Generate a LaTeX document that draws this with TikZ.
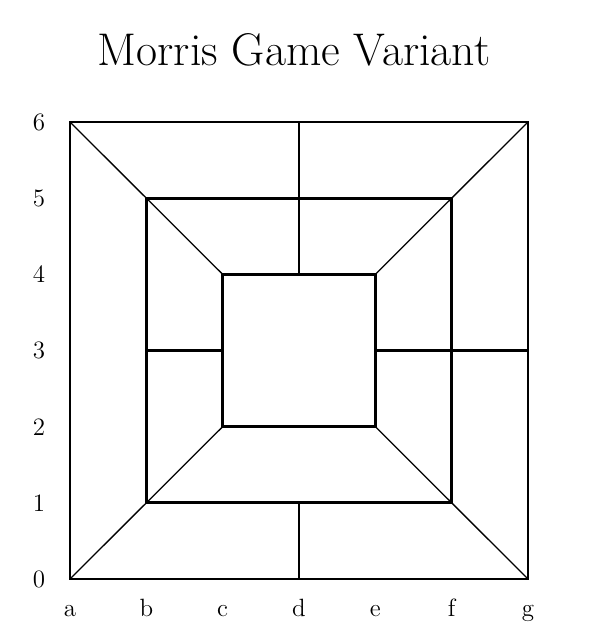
\documentclass[tikz,border=0pt]{standalone}
\usetikzlibrary{calc}
\begin{document}
\begin{tikzpicture}[x=0.5pt,y=-0.5pt,
  thick line/.style={line width=1.45pt,line cap=rect},
  thin line/.style={line width=0.65pt},
  lbl/.style={font=\fontsize{12.5}{15}\selectfont,anchor=base,inner sep=0pt},
  ttl/.style={font=\fontsize{22.9}{27}\selectfont,anchor=base,inner sep=0pt}]
\useasboundingbox (0,0) rectangle (593,635);
% grid coordinates
\foreach \c [count=\i from 0] in {a,b,c,d,e,f,g}{
  \foreach \r in {0,...,6}{
    \coordinate (\c\r) at ({70+76.333*\i},{579-76.167*\r});
  }
}
\node[ttl] (title) at (294,66) {Morris Game Variant};
% squares
\draw[thick line] (a0) -- (g0) -- (g6) -- (a6) -- cycle;
\draw[thick line] (b1) -- (f1) -- (f5) -- (b5) -- cycle;
\draw[thick line] (c2) -- (e2) -- (e4) -- (c4) -- cycle;
% connectors
\draw[thick line] (d0) -- (d1);
\draw[thick line] (d6) -- (d4);
\draw[thick line] (b3) -- (c3);
\draw[thick line] (e3) -- (g3);
% diagonals
\draw[thin line] (a0) -- (c2);
\draw[thin line] (g0) -- (e2);
\draw[thin line] (a6) -- (c4);
\draw[thin line] (g6) -- (e4);
% labels
\foreach \r in {0,...,6}{
  \node[lbl] (row\r) at ($(a\r)+(-31,8.5)$) {\r};
}
\foreach \c in {a,b,c,d,e,f,g}{
  \node[lbl] (col\c) at ($(\c0)+(0,37.5)$) {\c};
}
\end{tikzpicture}
\end{document}
